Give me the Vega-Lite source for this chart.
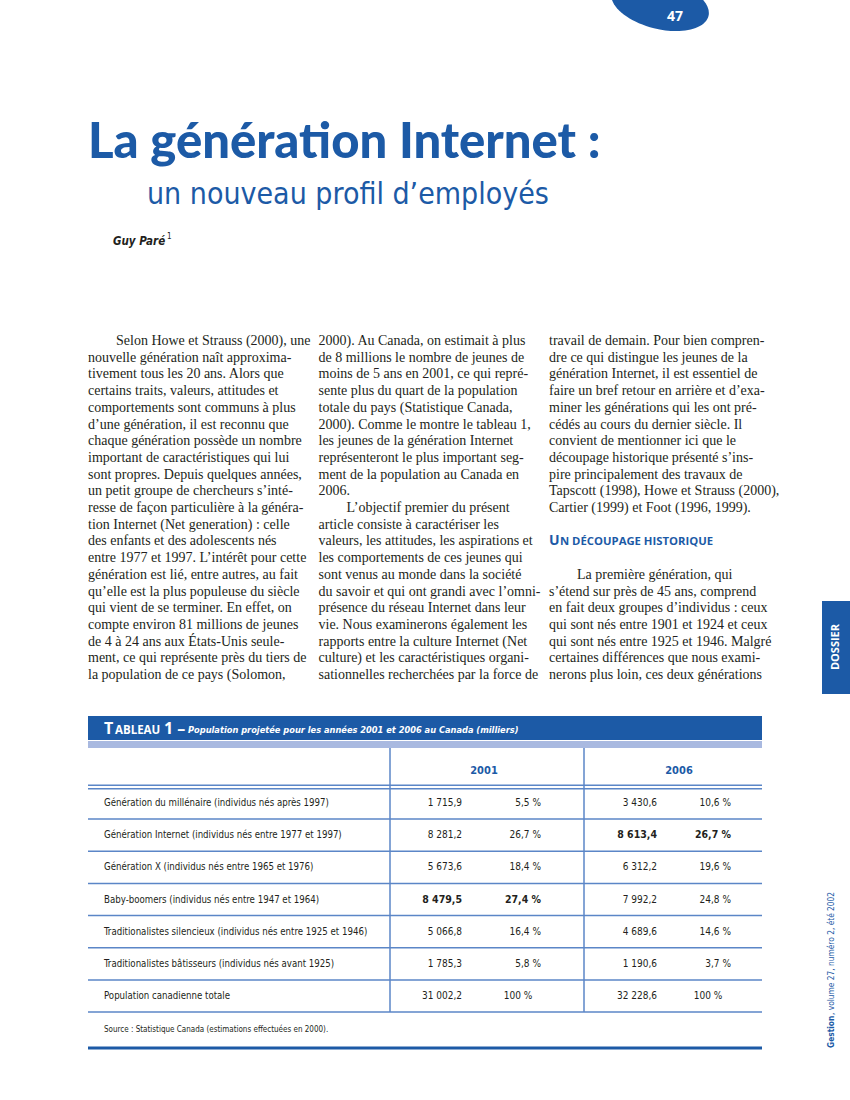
{
  "$schema": "https://vega.github.io/schema/vega-lite/v6.json",
  "width": 850,
  "height": 1100,
  "autosize": {"type": "none"},
  "padding": 0,
  "background": "white",
  "config": {"view": {"stroke": null}},
  "datasets": {
    "body": [
      {"col": 1, "line": 0, "text": "\u200b\u00a0\u00a0\u00a0\u00a0\u00a0\u00a0\u00a0\u00a0Selon Howe et Strauss (2000), une"},
      {"col": 1, "line": 1, "text": "nouvelle génération naît approxima-"},
      {"col": 1, "line": 2, "text": "tivement tous les 20 ans. Alors que"},
      {"col": 1, "line": 3, "text": "certains traits, valeurs, attitudes et"},
      {"col": 1, "line": 4, "text": "comportements sont communs à plus"},
      {"col": 1, "line": 5, "text": "d’une génération, il est reconnu que"},
      {"col": 1, "line": 6, "text": "chaque génération possède un nombre"},
      {"col": 1, "line": 7, "text": "important de caractéristiques qui lui"},
      {"col": 1, "line": 8, "text": "sont propres. Depuis quelques années,"},
      {"col": 1, "line": 9, "text": "un petit groupe de chercheurs s’inté-"},
      {"col": 1, "line": 10, "text": "resse de façon particulière à la généra-"},
      {"col": 1, "line": 11, "text": "tion Internet (Net generation) : celle"},
      {"col": 1, "line": 12, "text": "des enfants et des adolescents nés"},
      {"col": 1, "line": 13, "text": "entre 1977 et 1997. L’intérêt pour cette"},
      {"col": 1, "line": 14, "text": "génération est lié, entre autres, au fait"},
      {"col": 1, "line": 15, "text": "qu’elle est la plus populeuse du siècle"},
      {"col": 1, "line": 16, "text": "qui vient de se terminer. En effet, on"},
      {"col": 1, "line": 17, "text": "compte environ 81 millions de jeunes"},
      {"col": 1, "line": 18, "text": "de 4 à 24 ans aux États-Unis seule-"},
      {"col": 1, "line": 19, "text": "ment, ce qui représente près du tiers de"},
      {"col": 1, "line": 20, "text": "la population de ce pays (Solomon,"},
      {"col": 2, "line": 0, "text": "2000). Au Canada, on estimait à plus"},
      {"col": 2, "line": 1, "text": "de 8 millions le nombre de jeunes de"},
      {"col": 2, "line": 2, "text": "moins de 5 ans en 2001, ce qui repré-"},
      {"col": 2, "line": 3, "text": "sente plus du quart de la population"},
      {"col": 2, "line": 4, "text": "totale du pays (Statistique Canada,"},
      {"col": 2, "line": 5, "text": "2000). Comme le montre le tableau 1,"},
      {"col": 2, "line": 6, "text": "les jeunes de la génération Internet"},
      {"col": 2, "line": 7, "text": "représenteront le plus important seg-"},
      {"col": 2, "line": 8, "text": "ment de la population au Canada en"},
      {"col": 2, "line": 9, "text": "2006."},
      {"col": 2, "line": 10, "text": "\u200b\u00a0\u00a0\u00a0\u00a0\u00a0\u00a0\u00a0\u00a0L’objectif premier du présent"},
      {"col": 2, "line": 11, "text": "article consiste à caractériser les"},
      {"col": 2, "line": 12, "text": "valeurs, les attitudes, les aspirations et"},
      {"col": 2, "line": 13, "text": "les comportements de ces jeunes qui"},
      {"col": 2, "line": 14, "text": "sont venus au monde dans la société"},
      {"col": 2, "line": 15, "text": "du savoir et qui ont grandi avec l’omni-"},
      {"col": 2, "line": 16, "text": "présence du réseau Internet dans leur"},
      {"col": 2, "line": 17, "text": "vie. Nous examinerons également les"},
      {"col": 2, "line": 18, "text": "rapports entre la culture Internet (Net"},
      {"col": 2, "line": 19, "text": "culture) et les caractéristiques organi-"},
      {"col": 2, "line": 20, "text": "sationnelles recherchées par la force de"},
      {"col": 3, "line": 0, "text": "travail de demain. Pour bien compren-"},
      {"col": 3, "line": 1, "text": "dre ce qui distingue les jeunes de la"},
      {"col": 3, "line": 2, "text": "génération Internet, il est essentiel de"},
      {"col": 3, "line": 3, "text": "faire un bref retour en arrière et d’exa-"},
      {"col": 3, "line": 4, "text": "miner les générations qui les ont pré-"},
      {"col": 3, "line": 5, "text": "cédés au cours du dernier siècle. Il"},
      {"col": 3, "line": 6, "text": "convient de mentionner ici que le"},
      {"col": 3, "line": 7, "text": "découpage historique présenté s’ins-"},
      {"col": 3, "line": 8, "text": "pire principalement des travaux de"},
      {"col": 3, "line": 9, "text": "Tapscott (1998), Howe et Strauss (2000),"},
      {"col": 3, "line": 10, "text": "Cartier (1999) et Foot (1996, 1999)."},
      {"col": 3, "line": 14, "text": "\u200b\u00a0\u00a0\u00a0\u00a0\u00a0\u00a0\u00a0\u00a0La première génération, qui"},
      {"col": 3, "line": 15, "text": "s’étend sur près de 45 ans, comprend"},
      {"col": 3, "line": 16, "text": "en fait deux groupes d’individus : ceux"},
      {"col": 3, "line": 17, "text": "qui sont nés entre 1901 et 1924 et ceux"},
      {"col": 3, "line": 18, "text": "qui sont nés entre 1925 et 1946. Malgré"},
      {"col": 3, "line": 19, "text": "certaines différences que nous exami-"},
      {"col": 3, "line": 20, "text": "nerons plus loin, ces deux générations"}
    ],
    "cells": [
      {"row": 1, "col": 0, "v": "Génération du millénaire (individus nés après 1997)", "b": 0},
      {"row": 1, "col": 1, "v": "1 715,9", "b": 0},
      {"row": 1, "col": 2, "v": "5,5 %", "b": 0},
      {"row": 1, "col": 3, "v": "3 430,6", "b": 0},
      {"row": 1, "col": 4, "v": "10,6 %", "b": 0},
      {"row": 2, "col": 0, "v": "Génération Internet (individus nés entre 1977 et 1997)", "b": 0},
      {"row": 2, "col": 1, "v": "8 281,2", "b": 0},
      {"row": 2, "col": 2, "v": "26,7 %", "b": 0},
      {"row": 2, "col": 3, "v": "8 613,4", "b": 1},
      {"row": 2, "col": 4, "v": "26,7 %", "b": 1},
      {"row": 3, "col": 0, "v": "Génération X (individus nés entre 1965 et 1976)", "b": 0},
      {"row": 3, "col": 1, "v": "5 673,6", "b": 0},
      {"row": 3, "col": 2, "v": "18,4 %", "b": 0},
      {"row": 3, "col": 3, "v": "6 312,2", "b": 0},
      {"row": 3, "col": 4, "v": "19,6 %", "b": 0},
      {"row": 4, "col": 0, "v": "Baby-boomers (individus nés entre 1947 et 1964)", "b": 0},
      {"row": 4, "col": 1, "v": "8 479,5", "b": 1},
      {"row": 4, "col": 2, "v": "27,4 %", "b": 1},
      {"row": 4, "col": 3, "v": "7 992,2", "b": 0},
      {"row": 4, "col": 4, "v": "24,8 %", "b": 0},
      {"row": 5, "col": 0, "v": "Traditionalistes silencieux (individus nés entre 1925 et 1946)", "b": 0},
      {"row": 5, "col": 1, "v": "5 066,8", "b": 0},
      {"row": 5, "col": 2, "v": "16,4 %", "b": 0},
      {"row": 5, "col": 3, "v": "4 689,6", "b": 0},
      {"row": 5, "col": 4, "v": "14,6 %", "b": 0},
      {"row": 6, "col": 0, "v": "Traditionalistes bâtisseurs (individus nés avant 1925)", "b": 0},
      {"row": 6, "col": 1, "v": "1 785,3", "b": 0},
      {"row": 6, "col": 2, "v": "5,8 %", "b": 0},
      {"row": 6, "col": 3, "v": "1 190,6", "b": 0},
      {"row": 6, "col": 4, "v": "3,7 %", "b": 0},
      {"row": 7, "col": 0, "v": "Population canadienne totale", "b": 0},
      {"row": 7, "col": 1, "v": "31 002,2", "b": 0},
      {"row": 7, "col": 2, "v": "100 %\u00a0\u00a0\u00a0\u200b", "b": 0},
      {"row": 7, "col": 3, "v": "32 228,6", "b": 0},
      {"row": 7, "col": 4, "v": "100 %\u00a0\u00a0\u00a0\u200b", "b": 0}
    ],
    "seps": [
      {"pos": 0.45}, {"pos": 0.56}, {"pos": 1.5}, {"pos": 2.5}, {"pos": 3.5},
      {"pos": 4.5}, {"pos": 5.5}, {"pos": 6.5}, {"pos": 7.5}
    ]
  },
  "resolve": {"scale": {"x": "independent", "y": "independent"}},
  "layer": [
    {
      "data": {"values": [{}]},
      "mark": {"type": "point", "filled": true, "opacity": 1, "color": "#1c5aa6", "angle": 14, "size": 10000,
        "shape": "M -1 0 C -1 -0.276 -0.552 -0.5 0 -0.5 C 0.552 -0.5 1 -0.276 1 0 C 1 0.276 0.552 0.5 0 0.5 C -0.552 0.5 -1 0.276 -1 0 Z"},
      "encoding": {"x": {"value": 660}, "y": {"value": 4}}
    },
    {
      "data": {"values": [{"t": "47"}]},
      "mark": {"type": "text", "color": "white", "font": "Open Sans", "fontWeight": "bold", "fontSize": 14, "align": "center", "baseline": "middle"},
      "encoding": {"text": {"field": "t"}, "x": {"value": 675}, "y": {"value": 17}}
    },
    {
      "data": {"values": [{"t": "La génération Internet :"}]},
      "mark": {"type": "text", "color": "#1c5aa6", "font": "Lato", "fontWeight": 900, "fontSize": 49, "align": "left", "baseline": "alphabetic"},
      "encoding": {"text": {"field": "t"}, "x": {"value": 88}, "y": {"value": 158}}
    },
    {
      "data": {"values": [{"t": "un nouveau profil d’employés"}]},
      "mark": {"type": "text", "color": "#1c5aa6", "font": "'DejaVu Sans Condensed', sans-serif", "fontSize": 30, "align": "left", "baseline": "alphabetic"},
      "encoding": {"text": {"field": "t"}, "x": {"value": 147}, "y": {"value": 204}}
    },
    {
      "data": {"values": [{"t": "Guy Paré"}]},
      "mark": {"type": "text", "color": "#231f20", "font": "'DejaVu Sans Condensed', sans-serif", "fontWeight": "bold", "fontStyle": "italic", "fontSize": 11.5, "align": "left", "baseline": "alphabetic"},
      "encoding": {"text": {"field": "t"}, "x": {"value": 113}, "y": {"value": 245}}
    },
    {
      "data": {"values": [{"t": "1"}]},
      "mark": {"type": "text", "color": "#231f20", "font": "'DejaVu Sans Condensed', sans-serif", "fontSize": 8, "align": "left", "baseline": "alphabetic"},
      "encoding": {"text": {"field": "t"}, "x": {"value": 167}, "y": {"value": 239}}
    },
    {
      "data": {"name": "body"},
      "mark": {"type": "text", "color": "#231f20", "font": "'Liberation Serif', serif", "fontSize": 14, "align": "left", "baseline": "alphabetic"},
      "encoding": {
        "text": {"field": "text"},
        "x": {"field": "col", "type": "quantitative", "scale": {"domain": [1, 3], "range": [88, 549]}, "axis": null},
        "y": {"field": "line", "type": "quantitative", "scale": {"domain": [0, 20], "range": [345, 679]}, "axis": null}
      }
    },
    {
      "data": {"values": [{"col": 3, "line": 12, "text": "U"}]},
      "mark": {"type": "text", "color": "#1c5aa6", "font": "'Open Sans', sans-serif", "fontWeight": "bold", "fontSize": 14, "align": "left", "baseline": "alphabetic"},
      "encoding": {
        "text": {"field": "text"},
        "x": {"field": "col", "type": "quantitative", "scale": {"domain": [1, 3], "range": [88, 549]}, "axis": null},
        "y": {"field": "line", "type": "quantitative", "scale": {"domain": [0, 20], "range": [345, 679]}, "axis": null}
      }
    },
    {
      "data": {"values": [{"col": 3, "line": 12, "text": "N DÉCOUPAGE HISTORIQUE"}]},
      "mark": {"type": "text", "color": "#1c5aa6", "font": "'Open Sans', sans-serif", "fontWeight": "bold", "fontSize": 11.3, "align": "left", "baseline": "alphabetic", "dx": 11},
      "encoding": {
        "text": {"field": "text"},
        "x": {"field": "col", "type": "quantitative", "scale": {"domain": [1, 3], "range": [88, 549]}, "axis": null},
        "y": {"field": "line", "type": "quantitative", "scale": {"domain": [0, 20], "range": [345, 679]}, "axis": null}
      }
    },
    {
      "data": {"values": [{}]},
      "mark": {"type": "rect", "color": "#1c5aa6"},
      "encoding": {"x": {"value": 88}, "x2": {"value": 762}, "y": {"value": 716}, "y2": {"value": 740}}
    },
    {
      "data": {"values": [{}]},
      "mark": {"type": "rect", "color": "#a9b9e0"},
      "encoding": {"x": {"value": 88}, "x2": {"value": 762}, "y": {"value": 741}, "y2": {"value": 748}}
    },
    {
      "data": {"values": [{"t": "T"}]},
      "mark": {"type": "text", "color": "white", "font": "'Open Sans', sans-serif", "fontWeight": "bold", "fontSize": 16, "align": "left", "baseline": "alphabetic"},
      "encoding": {"text": {"field": "t"}, "x": {"value": 104}, "y": {"value": 734}}
    },
    {
      "data": {"values": [{"t": "ABLEAU"}]},
      "mark": {"type": "text", "color": "white", "font": "'Open Sans', sans-serif", "fontWeight": "bold", "fontSize": 11.5, "align": "left", "baseline": "alphabetic"},
      "encoding": {"text": {"field": "t"}, "x": {"value": 115}, "y": {"value": 734}}
    },
    {
      "data": {"values": [{"t": "1 –"}]},
      "mark": {"type": "text", "color": "white", "font": "'Open Sans', sans-serif", "fontWeight": "bold", "fontSize": 16, "align": "left", "baseline": "alphabetic"},
      "encoding": {"text": {"field": "t"}, "x": {"value": 164}, "y": {"value": 734}}
    },
    {
      "data": {"values": [{"t": "Population projetée pour les années 2001 et 2006 au Canada (milliers)"}]},
      "mark": {"type": "text", "color": "white", "font": "'DejaVu Sans Condensed', sans-serif", "fontWeight": "bold", "fontStyle": "italic", "fontSize": 9.2, "align": "left", "baseline": "alphabetic"},
      "encoding": {"text": {"field": "t"}, "x": {"value": 188}, "y": {"value": 733}}
    },
    {
      "data": {"values": [{"t": "2001", "c": 1}, {"t": "2006", "c": 2}]},
      "mark": {"type": "text", "color": "#1c5aa6", "font": "'DejaVu Sans Condensed', sans-serif", "fontWeight": "bold", "fontSize": 11, "align": "center", "baseline": "middle"},
      "encoding": {
        "text": {"field": "t"},
        "x": {"field": "c", "type": "quantitative", "scale": {"domain": [1, 2], "range": [484, 679]}, "axis": null},
        "y": {"value": 771}
      }
    },
    {
      "data": {"name": "seps"},
      "mark": {"type": "rule", "color": "#5b86c7", "strokeWidth": 1.5},
      "encoding": {
        "y": {"field": "pos", "type": "quantitative", "scale": {"domain": [1, 7], "range": [803, 996]}, "axis": null},
        "x": {"value": 88},
        "x2": {"value": 762}
      }
    },
    {
      "data": {"values": [{"c": 1}, {"c": 2}]},
      "mark": {"type": "rule", "color": "#5b86c7", "strokeWidth": 1.5},
      "encoding": {
        "x": {"field": "c", "type": "quantitative", "scale": {"domain": [1, 2], "range": [390, 584]}, "axis": null},
        "y": {"value": 748},
        "y2": {"value": 1012}
      }
    },
    {
      "data": {"name": "cells"},
      "transform": [{"filter": "datum.col == 0"}],
      "mark": {"type": "text", "color": "#231f20", "font": "'DejaVu Sans Condensed', sans-serif", "fontSize": 9.6, "align": "left", "baseline": "middle"},
      "encoding": {
        "text": {"field": "v"},
        "x": {"field": "col", "type": "quantitative", "scale": {"domain": [0, 1, 2, 3, 4], "range": [104, 462, 541, 657, 731]}, "axis": null},
        "y": {"field": "row", "type": "quantitative", "scale": {"domain": [1, 7], "range": [803, 996]}, "axis": null}
      }
    },
    {
      "data": {"name": "cells"},
      "transform": [{"filter": "datum.col > 0 && datum.b == 0"}],
      "mark": {"type": "text", "color": "#231f20", "font": "'DejaVu Sans Condensed', sans-serif", "fontSize": 10, "align": "right", "baseline": "middle"},
      "encoding": {
        "text": {"field": "v"},
        "x": {"field": "col", "type": "quantitative", "scale": {"domain": [0, 1, 2, 3, 4], "range": [104, 462, 541, 657, 731]}, "axis": null},
        "y": {"field": "row", "type": "quantitative", "scale": {"domain": [1, 7], "range": [803, 996]}, "axis": null}
      }
    },
    {
      "data": {"name": "cells"},
      "transform": [{"filter": "datum.col > 0 && datum.b == 1"}],
      "mark": {"type": "text", "color": "#231f20", "font": "'DejaVu Sans Condensed', sans-serif", "fontWeight": "bold", "fontSize": 10.5, "align": "right", "baseline": "middle"},
      "encoding": {
        "text": {"field": "v"},
        "x": {"field": "col", "type": "quantitative", "scale": {"domain": [0, 1, 2, 3, 4], "range": [104, 462, 541, 657, 731]}, "axis": null},
        "y": {"field": "row", "type": "quantitative", "scale": {"domain": [1, 7], "range": [803, 996]}, "axis": null}
      }
    },
    {
      "data": {"values": [{"t": "Source : Statistique Canada (estimations effectuées en 2000)."}]},
      "mark": {"type": "text", "color": "#231f20", "font": "'DejaVu Sans Condensed', sans-serif", "fontSize": 8, "align": "left", "baseline": "middle"},
      "encoding": {"text": {"field": "t"}, "x": {"value": 104}, "y": {"value": 1030}}
    },
    {
      "data": {"values": [{}]},
      "mark": {"type": "rule", "color": "#1c5aa6", "strokeWidth": 3},
      "encoding": {"x": {"value": 88}, "x2": {"value": 762}, "y": {"value": 1048}}
    },
    {
      "data": {"values": [{}]},
      "mark": {"type": "rect", "color": "#1c5aa6"},
      "encoding": {"x": {"value": 822}, "x2": {"value": 850}, "y": {"value": 601}, "y2": {"value": 694}}
    },
    {
      "data": {"values": [{"t": "DOSSIER"}]},
      "mark": {"type": "text", "color": "white", "font": "'Open Sans', sans-serif", "fontWeight": "bold", "fontSize": 11, "align": "center", "baseline": "middle", "angle": 270},
      "encoding": {"text": {"field": "t"}, "x": {"value": 836}, "y": {"value": 647}}
    },
    {
      "data": {"values": [{"t": "Gestion"}]},
      "mark": {"type": "text", "color": "#1c5aa6", "font": "'DejaVu Sans Condensed', sans-serif", "fontWeight": "bold", "fontSize": 8.3, "align": "left", "baseline": "middle", "angle": 270},
      "encoding": {"text": {"field": "t"}, "x": {"value": 832}, "y": {"value": 1048}}
    },
    {
      "data": {"values": [{"t": ", volume 27, numéro 2, été 2002"}]},
      "mark": {"type": "text", "color": "#1c5aa6", "font": "'DejaVu Sans Condensed', sans-serif", "fontSize": 8.3, "align": "left", "baseline": "middle", "angle": 270},
      "encoding": {"text": {"field": "t"}, "x": {"value": 832}, "y": {"value": 1015}}
    }
  ]
}
